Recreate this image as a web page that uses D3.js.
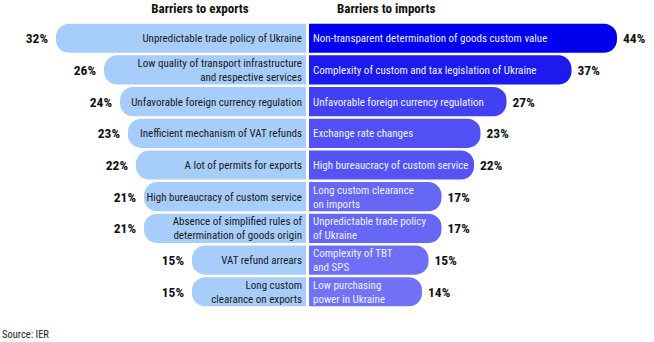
<!DOCTYPE html>
<html><head><meta charset="utf-8">
<script src="https://cdn.jsdelivr.net/npm/d3@7"></script>
<style>
body{margin:0;background:#fff;}
text{font-family:"Roboto Condensed","Liberation Sans Narrow","Arial Narrow","DejaVu Sans Condensed",sans-serif;}
</style></head>
<body><svg id="c" width="654" height="342"></svg>
<script>
const exportLabels = [
  "Unpredictable trade policy of Ukraine",
  "Low quality of transport infrastructure\nand respective services",
  "Unfavorable foreign currency regulation",
  "Inefficient mechanism of VAT refunds",
  "A lot of permits for exports",
  "High bureaucracy of custom service",
  "Absence of simplified rules of\ndetermination of goods origin",
  "VAT refund arrears",
  "Long custom\nclearance on exports"
];
const exportValues = [32, 26, 24, 23, 22, 21, 21, 15, 15];
const importLabels = [
  "Non-transparent determination of goods custom value",
  "Complexity of custom and tax legislation of Ukraine",
  "Unfavorable foreign currency regulation",
  "Exchange rate changes",
  "High bureaucracy of custom service",
  "Long custom clearance\non imports",
  "Unpredictable trade policy\nof Ukraine",
  "Complexity of TBT\nand SPS",
  "Low purchasing\npower in Ukraine"
];
const importValues = [44, 37, 27, 23, 22, 17, 17, 15, 14];
const titles = ["Barriers to exports", "Barriers to imports"];
const source = "Source: IER";

const svg = d3.select("#c");
const midL = 306, midR = 309;
const y = d3.scaleBand().domain(d3.range(exportValues.length)).range([23, 307]).paddingInner(0.08).paddingOuter(0.02);
const wL = d3.scaleLinear().domain([15, 32]).range([114, 250]);
const wR = d3.scaleLinear().domain([14, 44]).range([113, 308]);
const colR = d3.scaleLinear().domain([14, 44]).range(["#7272f7", "#0000ee"]);
const r = 13;

function barPath(x0, x1, y0, h, roundLeft) {
  const p = d3.path();
  if (roundLeft) {
    p.moveTo(x1, y0);
    p.lineTo(x0 + r, y0);
    p.arcTo(x0, y0, x0, y0 + r, r);
    p.lineTo(x0, y0 + h - r);
    p.arcTo(x0, y0 + h, x0 + r, y0 + h, r);
    p.lineTo(x1, y0 + h);
  } else {
    p.moveTo(x0, y0);
    p.lineTo(x1 - r, y0);
    p.arcTo(x1, y0, x1, y0 + r, r);
    p.lineTo(x1, y0 + h - r);
    p.arcTo(x1, y0 + h, x1 - r, y0 + h, r);
    p.lineTo(x0, y0 + h);
  }
  p.closePath();
  return p.toString();
}

function multiline(sel, txt, x, cy, anchor, fill) {
  const lines = txt.split("\n");
  const lh = 14;
  const t = sel.append("text").attr("text-anchor", anchor).attr("fill", fill)
    .attr("font-size", 11);
  lines.forEach((l, i) => {
    t.append("tspan").attr("x", x)
      .attr("y", cy + (i - (lines.length - 1) / 2) * lh + 4).text(l);
  });
}

// left
exportValues.forEach((v, i) => {
  const y0 = y(i), h = y.bandwidth(), x0 = midL - wL(v);
  svg.append("path").attr("d", barPath(x0, midL, y0, h, true)).attr("fill", "#a7cdfa");
  multiline(svg, exportLabels[i], midL - 4, y0 + h / 2, "end", "#1a1a1a");
  svg.append("text").attr("x", x0 - 8).attr("y", y0 + h / 2 + 5).attr("text-anchor", "end")
    .attr("font-size", 13.5).attr("font-weight", "bold").attr("fill", "#111").text(v + "%");
});
// right
importValues.forEach((v, i) => {
  const y0 = y(i), h = y.bandwidth(), x1 = midR + wR(v);
  svg.append("path").attr("d", barPath(midR, x1, y0, h, false)).attr("fill", colR(v));
  multiline(svg, importLabels[i], midR + 4, y0 + h / 2, "start", "#eef0ff");
  svg.append("text").attr("x", x1 + 6).attr("y", y0 + h / 2 + 5).attr("text-anchor", "start")
    .attr("font-size", 13.5).attr("font-weight", "bold").attr("fill", "#111").text(v + "%");
});

svg.append("text").attr("x", 200).attr("y", 13).attr("text-anchor", "middle")
  .attr("font-size", 13).attr("font-weight", "bold").attr("fill", "#111").text(titles[0]);
svg.append("text").attr("x", 337).attr("y", 13).attr("text-anchor", "start")
  .attr("font-size", 13).attr("font-weight", "bold").attr("fill", "#111").text(titles[1]);
svg.append("text").attr("x", 2).attr("y", 338).attr("font-size", 10.5).attr("fill", "#222").text(source);
</script></body></html>
